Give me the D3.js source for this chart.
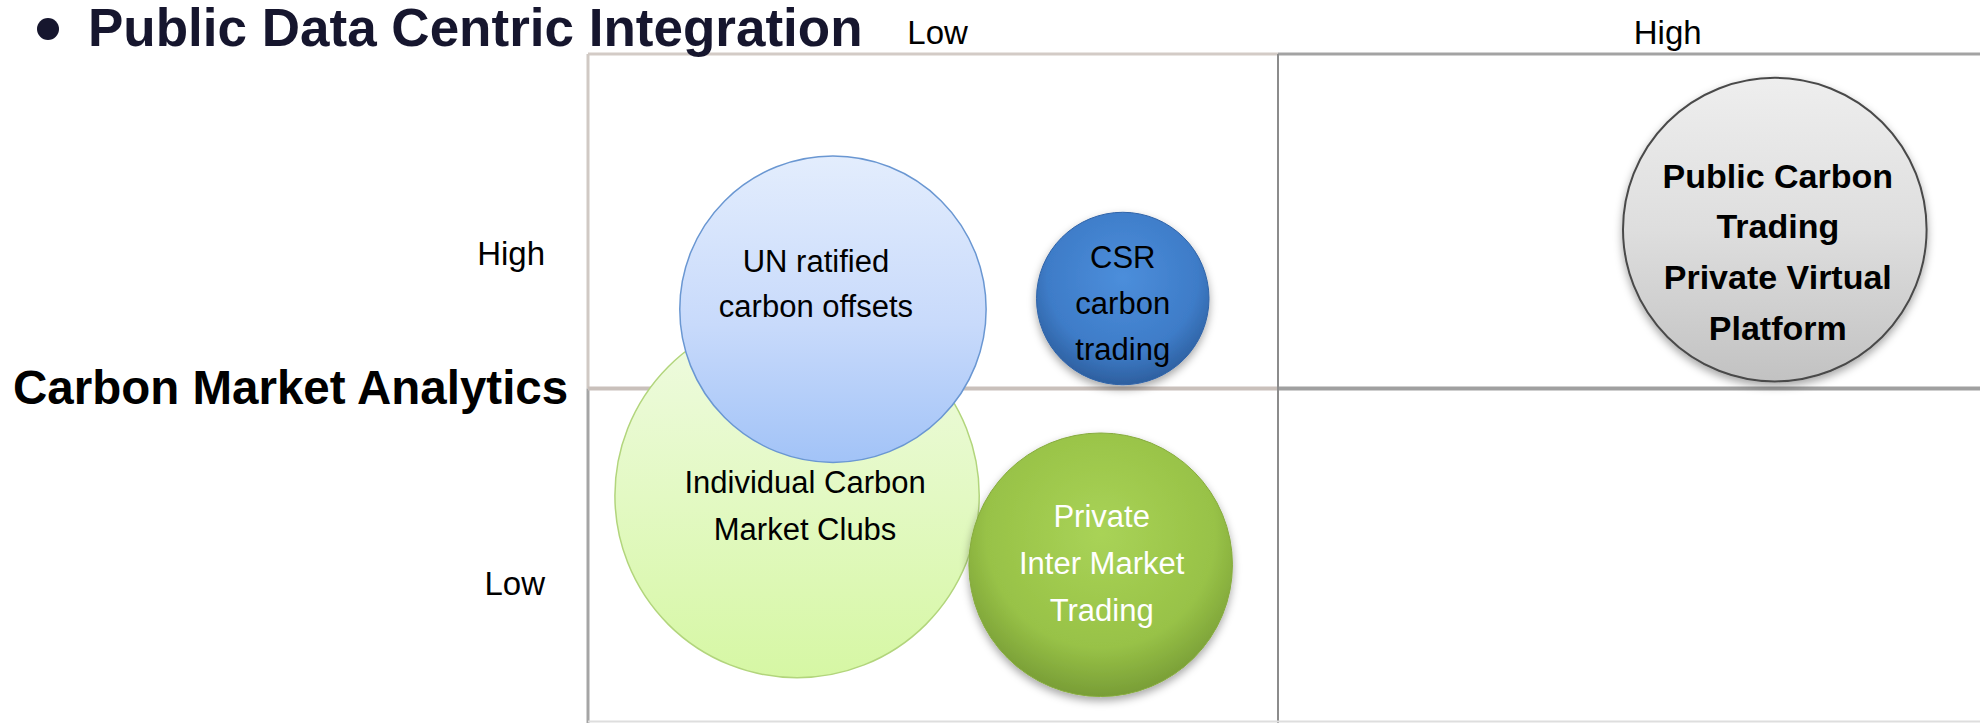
<!DOCTYPE html>
<html>
<head>
<meta charset="utf-8">
<script src="https://cdn.jsdelivr.net/npm/d3@7"></script>
<style>
  html, body { margin: 0; padding: 0; background: #fff; }
  svg { display: block; font-family: "Liberation Sans", Arial, sans-serif; }
</style>
</head>
<body>
<script>
var width = 1980;
var height = 723;

// axis labels
var xTickLabels = ["Low", "High"];
var xTickVals = [0.506, 1.564];
var yTickLabels = ["High", "Low"];
var yTickVals = [1.403, 0.415];

// bubbles: position on the two axes (0-2, quadrant split at 1) and radius in quadrant units
var bubbleNames = ["Individual Carbon Market Clubs", "UN ratified carbon offsets", "CSR carbon trading",
                   "Private Inter Market Trading", "Public Carbon Trading Private Virtual Platform"];
var bubbleLines = [["Individual Carbon", "Market Clubs"],
                   ["UN ratified", "carbon offsets"],
                   ["CSR", "carbon", "trading"],
                   ["Private", "Inter Market", "Trading"],
                   ["Public Carbon", "Trading", "Private Virtual", "Platform"]];
var integration = [0.303, 0.355, 0.775, 0.743, 1.720];
var analytics = [0.680, 1.237, 1.269, 0.473, 1.475];
var bubbleSize = [0.264, 0.222, 0.125, 0.191, 0.220];

// look of each bubble
var bubbleStyle = [
    {grad: "gGreenLight", stroke: "#b2d57c", sw: 1.5, text: "#000", weight: "normal", fs: 31, lh: 47, dx: 8, dy: -3, shadow: false},
    {grad: "gBlueLight", stroke: "#6a97d2", sw: 1.5, text: "#000", weight: "normal", fs: 31, lh: 45, dx: -17, dy: -37, shadow: false},
    {grad: "gBlueDark", stroke: "#2f63a8", sw: 1, text: "#000", weight: "normal", fs: 31, lh: 46, dx: 0, dy: -31, shadow: true},
    {grad: "gGreenDark", stroke: "#86ab3e", sw: 1, text: "#fff", weight: "normal", fs: 31, lh: 47, dx: 1, dy: -38, shadow: true},
    {grad: "gGrey", stroke: "#4a4a4a", sw: 2, text: "#000", weight: "bold", fs: 34, lh: 50.7, dx: 3, dy: -42, shadow: true}
];

var svg = d3.select("body").append("svg")
    .attr("width", width)
    .attr("height", height);

var x = d3.scaleLinear().domain([0, 2]).range([588, 1968]);
var y = d3.scaleLinear().domain([0, 2]).range([723, 54]);
var r = d3.scaleLinear().domain([0, 1]).range([0, x(1) - x(0)]);

var defs = svg.append("defs");

function linGrad(id, stops) {
    var g = defs.append("linearGradient").attr("id", id)
        .attr("x1", 0).attr("y1", 0).attr("x2", 0).attr("y2", 1);
    stops.forEach(function(s) {
        g.append("stop").attr("offset", s[0]).attr("stop-color", s[1]);
    });
}
function radGrad(id, stops) {
    var g = defs.append("radialGradient").attr("id", id)
        .attr("cx", "50%").attr("cy", "38%").attr("r", "62%");
    stops.forEach(function(s) {
        g.append("stop").attr("offset", s[0]).attr("stop-color", s[1]);
    });
}
linGrad("gGreenLight", [[0, "#f0fbe3"], [1, "#d6f7a4"]]);
linGrad("gBlueLight", [[0, "#e3edfd"], [0.55, "#c8dafb"], [1, "#a2c3f7"]]);
radGrad("gBlueDark", [[0, "#4c8edb"], [0.7, "#3e7cc8"], [1, "#2d5f9f"]]);
radGrad("gGreenDark", [[0, "#a9d357"], [0.7, "#98c247"], [1, "#789d36"]]);
linGrad("gGrey", [[0, "#eeeeee"], [0.5, "#dedede"], [1, "#c2c2c2"]]);

var shadow = defs.append("filter").attr("id", "shadow")
    .attr("x", "-20%").attr("y", "-20%").attr("width", "140%").attr("height", "150%");
shadow.append("feDropShadow")
    .attr("dx", 0).attr("dy", 4).attr("stdDeviation", 4)
    .attr("flood-color", "#000").attr("flood-opacity", 0.35);

// quadrant lines
var grid = svg.append("g").attr("class", "grid");
var midX = x(1), midY = y(1), leftX = x(0), topY = y(2);
var gridLines = [
    [leftX, topY, midX, topY, "#d3cbc6", 3],
    [midX, topY, width, topY, "#a3a3a3", 3],
    [leftX, topY, leftX, midY, "#d0c9c4", 3],
    [leftX, midY, leftX, height, "#a5a5a5", 3],
    [leftX, midY, midX, midY, "#c9c0bb", 4],
    [midX, midY, width, midY, "#a0a0a0", 4],
    [midX, topY, midX, height, "#8c8c8c", 2],
    [leftX, height - 1.5, width, height - 1.5, "#dedede", 2]
];
grid.selectAll("line")
    .data(gridLines)
    .enter().append("line")
    .attr("x1", function(d) { return d[0]; })
    .attr("y1", function(d) { return d[1]; })
    .attr("x2", function(d) { return d[2]; })
    .attr("y2", function(d) { return d[3]; })
    .attr("stroke", function(d) { return d[4]; })
    .attr("stroke-width", function(d) { return d[5]; });

// bubbles
var bubbles = bubbleNames.map(function(name, i) {
    return {name: name, lines: bubbleLines[i], x: integration[i], y: analytics[i], size: bubbleSize[i], style: bubbleStyle[i]};
});

var node = svg.append("g").attr("class", "bubbles")
    .selectAll("g")
    .data(bubbles)
    .enter().append("g");

node.append("circle")
    .attr("cx", function(d) { return x(d.x); })
    .attr("cy", function(d) { return y(d.y); })
    .attr("r", function(d) { return r(d.size); })
    .attr("fill", function(d) { return "url(#" + d.style.grad + ")"; })
    .attr("stroke", function(d) { return d.style.stroke; })
    .attr("stroke-width", function(d) { return d.style.sw; })
    .attr("filter", function(d) { return d.style.shadow ? "url(#shadow)" : null; });

node.each(function(d) {
    var t = d3.select(this).append("text")
        .attr("text-anchor", "middle")
        .attr("font-size", d.style.fs)
        .attr("font-weight", d.style.weight)
        .attr("fill", d.style.text);
    d.lines.forEach(function(line, j) {
        t.append("tspan")
            .attr("x", x(d.x) + d.style.dx)
            .attr("y", y(d.y) + d.style.dy + j * d.style.lh)
            .text(line);
    });
});

// axes
var xAxis = svg.append("g")
    .attr("transform", "translate(0,44)")
    .call(d3.axisTop(x).tickValues(xTickVals)
        .tickFormat(function(d, i) { return xTickLabels[i]; })
        .tickSize(0).tickPadding(0));
xAxis.select(".domain").remove();
xAxis.selectAll("text")
    .attr("font-size", 33)
    .attr("font-family", "Liberation Sans, Arial, sans-serif")
    .attr("fill", "#000");

var yAxis = svg.append("g")
    .attr("transform", "translate(545,0)")
    .call(d3.axisLeft(y).tickValues(yTickVals)
        .tickFormat(function(d, i) { return yTickLabels[i]; })
        .tickSize(0).tickPadding(0));
yAxis.select(".domain").remove();
yAxis.selectAll("text")
    .attr("font-size", 33)
    .attr("font-family", "Liberation Sans, Arial, sans-serif")
    .attr("fill", "#000");

// axis titles
svg.append("circle")
    .attr("cx", 48).attr("cy", 29).attr("r", 11)
    .attr("fill", "#16162e");
svg.append("text")
    .attr("x", 88).attr("y", 46)
    .attr("font-size", 53)
    .attr("font-weight", "bold")
    .attr("fill", "#16162e")
    .text("Public Data Centric Integration");

svg.append("text")
    .attr("x", 13).attr("y", 404)
    .attr("font-size", 47.5)
    .attr("font-weight", "bold")
    .attr("fill", "#000")
    .text("Carbon Market Analytics");
</script>
</body>
</html>
